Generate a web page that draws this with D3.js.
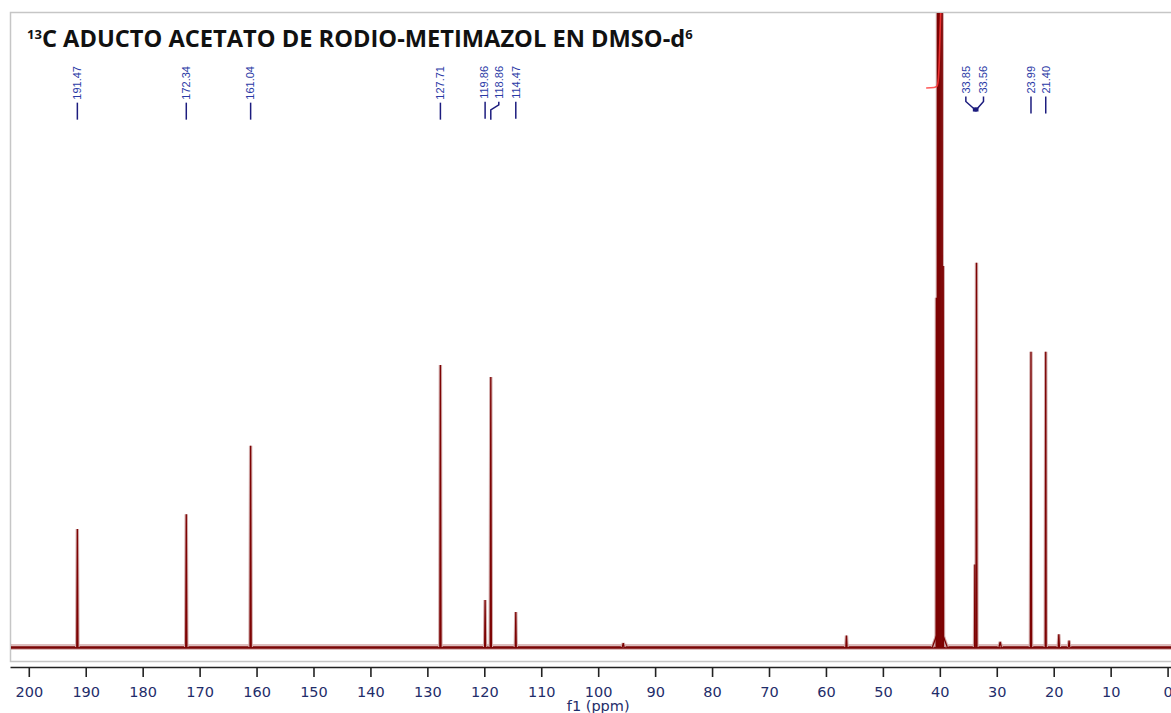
<!DOCTYPE html>
<html>
<head>
<meta charset="utf-8">
<script src="https://cdn.jsdelivr.net/npm/d3@7/dist/d3.min.js"></script>
<style>
  body{margin:0;background:#fff;}
  svg{display:block;}
</style>
</head>
<body>
<svg id="nmrSVG" width="1171" height="713"></svg>
<script>
// peaks: shift (ppm), height (% of the window), half width (ppm)
var peakPpm    = [191.47, 172.34, 161.04, 127.71, 119.86, 118.86, 114.47, 95.6, 56.4, 40.6, 40.4, 40.2, 40.0, 39.8, 39.6, 39.4, 40.0, 33.85, 33.56, 29.4, 23.99, 21.40, 19.1, 17.3];
var peakHeight = [18.6,   20.9,   31.7,   44.4,   7.4,    42.5,   5.5,    0.6,  1.8,  55,   160,  260,  300,  260,  160,  60,   3.2,  13,    60.5,  0.8,  46.5,  46.5,  2.0,  1.0];
var peakWidth  = [0.1,    0.1,    0.1,    0.1,    0.08,   0.1,    0.08,   0.15, 0.1,  0.05, 0.05, 0.05, 0.05, 0.05, 0.05, 0.05, 1.3,  0.06,  0.08,  0.2,  0.1,   0.08,  0.1,  0.1];

// labelled shifts
var labelPpm = [191.47, 172.34, 161.04, 127.71, 119.86, 118.86, 114.47, 33.85, 33.56, 23.99, 21.40];

// axis ticks
var tickPpm = [200, 190, 180, 170, 160, 150, 140, 130, 120, 110, 100, 90, 80, 70, 60, 50, 40, 30, 20, 10, 0];

// integral of the solvent signal (ppm, relative value)
var integralPpm = [42.4, 41.0, 40.55, 40.3, 40.1, 39.95, 39.85];
var integralVal = [0, 0.6, 2, 9, 35, 75, 100];

!function(){
  var svg = d3.select("#nmrSVG");

  var plotL = 10, plotR = 1171, plotT = 12, plotB = 661, baseY = 647;

  var x = d3.scaleLinear().domain([203.3, -0.6]).range([plotL, plotR]);
  var y = d3.scaleLinear().domain([0, 100]).range([baseY, plotT]);
  var yInt = d3.scaleLinear().domain([0, 100]).range([88, 12]);

  // frame
  svg.append("rect")
    .attr("x", plotL + 0.5).attr("y", plotT + 0.5)
    .attr("width", plotR - plotL + 5).attr("height", plotB - plotT)
    .attr("fill", "none").attr("stroke", "#c6c6c6").attr("stroke-width", 1.5);

  svg.append("clipPath").attr("id", "plotClip")
    .append("rect").attr("x", plotL + 1).attr("y", plotT + 1)
    .attr("width", plotR - plotL).attr("height", plotB - plotT - 2);

  var plot = svg.append("g").attr("clip-path", "url(#plotClip)");

  // baseline (noise band)
  plot.append("line")
    .attr("x1", plotL).attr("x2", plotR).attr("y1", y(0)).attr("y2", y(0))
    .attr("stroke", "#8c1a1a").attr("stroke-width", 6).attr("opacity", 0.28);
  plot.append("line")
    .attr("x1", plotL).attr("x2", plotR).attr("y1", y(0) + 0.5).attr("y2", y(0) + 0.5)
    .attr("stroke", "#7a0606").attr("stroke-width", 2.6);

  var peaks = peakPpm.map(function(p, i){
    return {ppm: p, h: peakHeight[i], w: peakWidth[i]};
  });

  var peakLine = d3.line()
    .x(function(d){ return x(d[0]); })
    .y(function(d){ return y(d[1]); });

  function peakPts(d){ return [[d.ppm + d.w, 0], [d.ppm, d.h], [d.ppm - d.w, 0]]; }

  // light halo then dark trace, like the anti-aliased original
  plot.selectAll("path.halo")
    .data(peaks)
    .enter()
    .append("path")
      .attr("class", "halo")
      .attr("d", function(d){ return peakLine(peakPts(d)); })
      .attr("fill", "none")
      .attr("stroke", "#d2adad")
      .attr("stroke-width", 3.4);

  plot.selectAll("path.peak")
    .data(peaks)
    .enter()
    .append("path")
      .attr("class", "peak")
      .attr("d", function(d){ return peakLine(peakPts(d)); })
      .attr("fill", "none")
      .attr("stroke", "#7d0303")
      .attr("stroke-width", 1.3);

  // integral curve
  plot.append("path")
    .datum(integralPpm.map(function(p, i){ return [p, integralVal[i]]; }))
    .attr("d", d3.line()
      .x(function(d){ return x(d[0]); })
      .y(function(d){ return yInt(d[1]); })
      .curve(d3.curveMonotoneX))
    .attr("fill", "none")
    .attr("stroke", "#ff3a3a")
    .attr("stroke-width", 1.6)
    .attr("opacity", 0.85);

  // peak labels
  var labelShift = {"119.86": -1, "118.86": 8, "33.85": -9, "33.56": 7};
  var labelJoin  = {"33.85": true, "33.56": true};
  var labelTop = 66;

  var labels = svg.append("g");
  labelPpm.forEach(function(p){
    var key = p.toFixed(2);
    var px = x(p), lx = px + (labelShift[key] || 0);
    var t = labels.append("text")
      .attr("transform", "translate(" + lx + "," + labelTop + ") rotate(-90)")
      .attr("text-anchor", "end")
      .attr("dy", "0.35em")
      .attr("font-family", "Liberation Sans, Arial, sans-serif")
      .attr("font-size", "11px")
      .attr("fill", "#2b3aa6")
      .text(key);
    var len = t.node().getComputedTextLength();
    var y0 = labelTop + len + 3;
    var pts;
    if (labelJoin[key]) {
      pts = [[lx, y0], [lx, y0 + 5], [px, y0 + 13]];
    } else if (labelShift[key] && Math.abs(labelShift[key]) > 2) {
      pts = [[lx, y0], [lx, y0 + 3], [px, y0 + 8], [px, y0 + 18]];
    } else {
      pts = [[px, y0], [px, y0 + 17]];
    }
    labels.append("path")
      .attr("d", d3.line()(pts))
      .attr("fill", "none")
      .attr("stroke", "#1c1c7e")
      .attr("stroke-width", 1.5);
    if (labelJoin[key]) {
      labels.append("rect")
        .attr("x", px - 2).attr("y", y0 + 11)
        .attr("width", 4).attr("height", 4)
        .attr("fill", "#1c1c7e");
    }
  });

  // x axis
  var axis = svg.append("g")
    .attr("transform", "translate(0,667)")
    .call(d3.axisBottom(x).tickValues(tickPpm).tickFormat(d3.format("d"))
      .tickSize(10).tickSizeOuter(0).tickPadding(10));
  axis.select(".domain").attr("stroke", "#222").attr("stroke-width", 1.6);
  axis.selectAll(".tick line").attr("stroke", "#222").attr("stroke-width", 1.6);
  axis.selectAll(".tick text")
    .attr("font-family", "DejaVu Sans, Verdana, sans-serif")
    .attr("font-size", "14.5px")
    .attr("fill", "#1f2d6a");

  svg.append("text")
    .attr("x", x(100)).attr("y", 711)
    .attr("text-anchor", "middle")
    .attr("font-family", "DejaVu Sans, Verdana, sans-serif")
    .attr("font-size", "14.5px")
    .attr("fill", "#1f2d6a")
    .text("f1 (ppm)");

  // title
  var title = svg.append("text")
    .attr("x", 27).attr("y", 47)
    .attr("font-family", "Open Sans, sans-serif")
    .attr("font-weight", 700)
    .attr("font-size", "20px")
    .attr("fill", "#111");
  title.append("tspan").attr("font-size", "13px").attr("dy", -8).text("13");
  title.append("tspan").attr("dy", 8).text("C ADUCTO ACETATO DE RODIO-METIMAZOL EN DMSO-d");
  title.append("tspan").attr("font-size", "13px").attr("dy", -8).text("6");

  var tw = title.node().getComputedTextLength();
  title.attr("font-size", (20 * 670 / tw) + "px");
}();
</script>
</body>
</html>
